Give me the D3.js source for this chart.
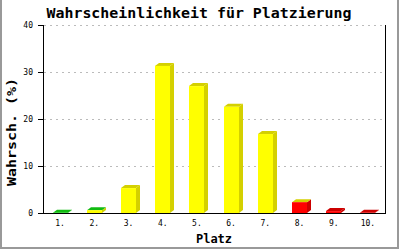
<!DOCTYPE html>
<html>
<head>
<meta charset="utf-8">
<script src="https://cdn.jsdelivr.net/npm/d3@7"></script>
<style>
  body { margin: 0; background: #fff; }
  text { font-family: "DejaVu Sans Mono", monospace; }
</style>
</head>
<body>
<svg id="chart"></svg>
<script>
// chart data
var places = ["1.", "2.", "3.", "4.", "5.", "6.", "7.", "8.", "9.", "10."];
var probs = [0.05, 0.6, 5.3, 31.3, 27.0, 22.6, 16.8, 2.3, 0.4, 0.05];
var yTicks = [0, 10, 20, 30, 40];

var screen = {width: 400, height: 250};
var margins = {left: 43, right: 15, top: 25, bottom: 37};

var svg = d3.select("#chart")
    .attr("width", screen.width)
    .attr("height", screen.height);

// colour per place: first green, middle yellow, last three red
var colorFor = function(i) {
    if (i == 0) return {front: "#11dd11", side: "#11bb11"};
    if (i < 7) return {front: "#ffff00", side: "#d4d000"};
    return {front: "#ff0000", side: "#cc0000"};
};

var xScale = d3.scaleBand()
    .domain(places)
    .range([margins.left, screen.width - margins.right]);

var yScale = d3.scaleLinear()
    .domain([0, 40])
    .range([screen.height - margins.bottom, margins.top]);

var x0 = margins.left, x1 = screen.width - margins.right;
var y0 = yScale(0), y1 = yScale(40);

// gridlines
svg.append("g")
    .selectAll("line")
    .data(yTicks.slice(1))
    .enter()
    .append("line")
    .attr("x1", x0 + 1)
    .attr("x2", x1)
    .attr("y1", function(d) { return yScale(d) + 0.5; })
    .attr("y2", function(d) { return yScale(d) + 0.5; })
    .attr("stroke", "#bbb")
    .attr("stroke-dasharray", "2,4");

// 3D bars
var barW = 15, dx = 4, dy = 3;
var bars = svg.append("g");
probs.forEach(function(v, i) {
    var cx = xScale(places[i]) + xScale.bandwidth() / 2;
    var left = Math.round(cx - barW / 2);
    var right = left + barW;
    var top = yScale(v);
    var c = colorFor(i);
    // top takes the side colour of the previous bar
    var topCol = i > 0 ? colorFor(i - 1).side : c.side;
    // side face
    bars.append("path")
        .attr("d", "M" + right + "," + y0 + "L" + right + "," + top +
              "L" + (right + dx) + "," + (top - dy) +
              "L" + (right + dx) + "," + (y0 - dy) + "Z")
        .attr("fill", c.side);
    // top face
    bars.append("path")
        .attr("d", "M" + left + "," + top + "L" + (left + dx) + "," + (top - dy) +
              "L" + (right + dx) + "," + (top - dy) + "L" + right + "," + top + "Z")
        .attr("fill", topCol);
    // front face
    bars.append("rect")
        .attr("x", left)
        .attr("y", top)
        .attr("width", barW)
        .attr("height", y0 - top)
        .attr("fill", c.front);
});

// axis frame lines
svg.append("line")
    .attr("x1", x0 + 0.5).attr("x2", x0 + 0.5)
    .attr("y1", y1).attr("y2", y0 + 1)
    .attr("stroke", "#000");
svg.append("line")
    .attr("x1", x0).attr("x2", x1 + 1)
    .attr("y1", y0 + 0.5).attr("y2", y0 + 0.5)
    .attr("stroke", "#000");
svg.append("line")
    .attr("x1", x1 + 0.5).attr("x2", x1 + 0.5)
    .attr("y1", y1).attr("y2", y0)
    .attr("stroke", "#000");

// y axis ticks and labels
var yAxis = svg.append("g");
yAxis.selectAll("line")
    .data(yTicks)
    .enter()
    .append("line")
    .attr("x1", x0 - 5)
    .attr("x2", x0)
    .attr("y1", function(d) { return yScale(d) + 0.5; })
    .attr("y2", function(d) { return yScale(d) + 0.5; })
    .attr("stroke", "#000");
yAxis.selectAll("text")
    .data(yTicks)
    .enter()
    .append("text")
    .attr("x", 33)
    .attr("y", function(d) { return yScale(d) + 3; })
    .attr("text-anchor", "end")
    .attr("font-size", "8px")
    .text(function(d) { return d; });

// x labels
svg.append("g")
    .selectAll("text")
    .data(places)
    .enter()
    .append("text")
    .attr("x", function(d) { return xScale(d) + xScale.bandwidth() / 2; })
    .attr("y", 226)
    .attr("text-anchor", "middle")
    .attr("font-size", "8px")
    .text(function(d) { return d; });

// titles
svg.append("text")
    .attr("x", 199)
    .attr("y", 18)
    .attr("text-anchor", "middle")
    .attr("font-size", "14px")
    .attr("font-weight", "bold")
    .attr("textLength", 305)
    .attr("lengthAdjust", "spacingAndGlyphs")
    .text("Wahrscheinlichkeit für Platzierung");

svg.append("text")
    .attr("x", 214)
    .attr("y", 243)
    .attr("text-anchor", "middle")
    .attr("font-size", "12px")
    .attr("font-weight", "bold")
    .text("Platz");

svg.append("text")
    .attr("transform", "translate(16,132) rotate(-90)")
    .attr("text-anchor", "middle")
    .attr("font-size", "12px")
    .attr("font-weight", "bold")
    .attr("textLength", 108)
    .attr("lengthAdjust", "spacingAndGlyphs")
    .text("Wahrsch. (%)");

// outer frame (left, right, bottom)
svg.append("path")
    .attr("d", "M1,0L1,248L398,248L398,0")
    .attr("fill", "none")
    .attr("stroke", "#999")
    .attr("stroke-width", 2);
</script>
</body>
</html>
